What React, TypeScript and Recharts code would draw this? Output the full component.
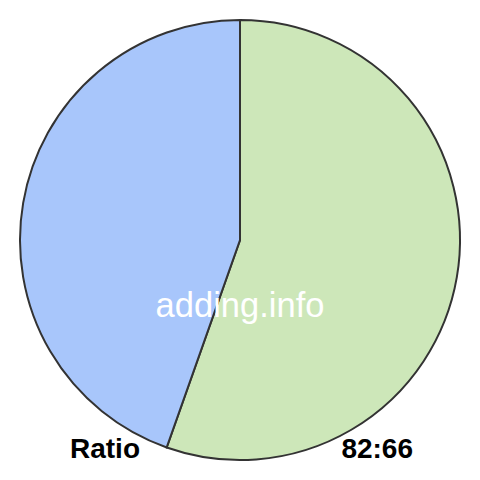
import React from "react";
import { PieChart, Pie, Cell } from "recharts";

const names = ["A", "B"];
const values = [82, 66];
const colors = ["#cde7b9", "#a8c6fb"];
const watermark = "adding.info";
const leftLabel = "Ratio";
const rightLabel = "82:66";

const data = names.map((n, i) => ({ name: n, value: values[i] }));

export default function App() {
  return (
    <div style={{ position: "absolute", left: 0, top: 0, width: 480, height: 480, background: "#fff" }}>
      <PieChart width={480} height={480} margin={{ top: 0, right: 0, bottom: 0, left: 0 }}>
        <Pie
          data={data}
          dataKey="value"
          cx={240}
          cy={240}
          outerRadius={220}
          startAngle={90}
          endAngle={-270}
          stroke="#333333"
          strokeWidth={2}
          isAnimationActive={false}
        >
          {data.map((d, i) => (
            <Cell key={d.name} fill={colors[i]} />
          ))}
        </Pie>
      </PieChart>
      <svg width={480} height={480} style={{ position: "absolute", left: 0, top: 0, pointerEvents: "none" }}>
        <text x={240} y={317} textAnchor="middle" fill="#ffffff" fontFamily="Liberation Sans, Arial, sans-serif" fontSize={34.5}>
          {watermark}
        </text>
        <text x={70} y={458} textAnchor="start" fill="#000" fontWeight="bold" fontFamily="Liberation Sans, Arial, sans-serif" fontSize={28}>
          {leftLabel}
        </text>
        <text x={413} y={458} textAnchor="end" fill="#000" fontWeight="bold" fontFamily="Liberation Sans, Arial, sans-serif" fontSize={28}>
          {rightLabel}
        </text>
      </svg>
    </div>
  );
}
